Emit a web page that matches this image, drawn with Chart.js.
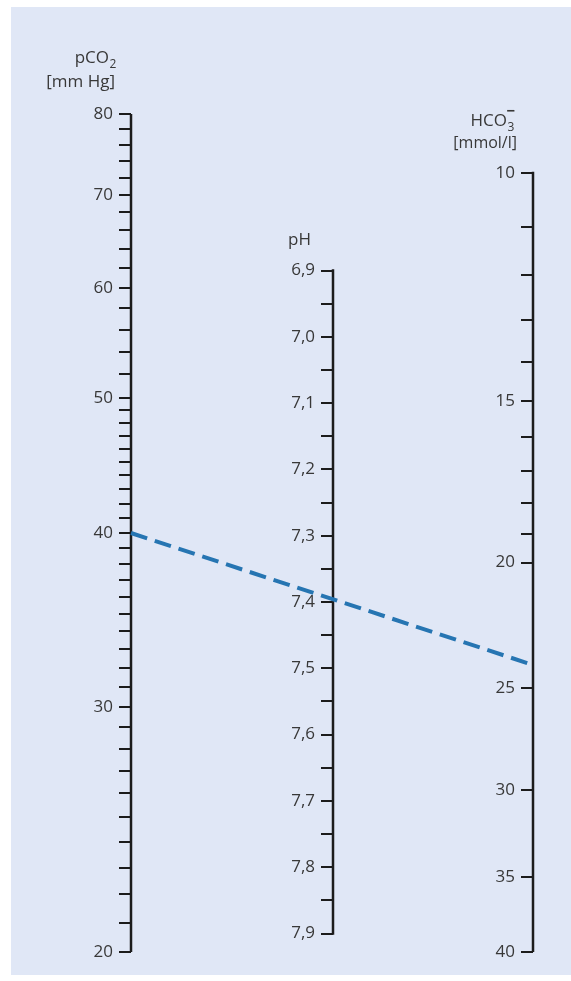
<!DOCTYPE html>
<html>
<head>
<meta charset="utf-8">
<title>Nomogramm pCO2 – pH – HCO3</title>
<script src="https://cdn.jsdelivr.net/npm/chart.js@4/dist/chart.umd.min.js"></script>
<style>
  html, body { margin: 0; padding: 0; background: #ffffff; }
  #wrap { position: relative; width: 571px; height: 981px; }
  #panel { position: absolute; left: 11px; top: 7px; width: 560px; height: 968px; background: #e0e7f6; }
  #c { position: absolute; left: 0; top: 0; }
</style>
</head>
<body>
<div id="wrap">
  <div id="panel"></div>
  <canvas id="c" width="571" height="981"></canvas>
</div>
<script>
// ---- scale values ----
const pco2Ticks = [20, 21, 22, 23, 24, 25, 26, 27, 28, 29, 30, 31, 32, 33, 34, 35, 36, 37, 38, 39,
                   40, 41, 42, 43, 44, 45, 46, 47, 48, 49, 50, 52, 54, 56, 58, 60, 62, 64, 66, 68,
                   70, 72, 74, 76, 78, 80];
const pco2Labels = [20, 30, 40, 50, 60, 70, 80];

const phTicks = [6.9, 6.95, 7.0, 7.05, 7.1, 7.15, 7.2, 7.25, 7.3, 7.35, 7.4, 7.45,
                 7.5, 7.55, 7.6, 7.65, 7.7, 7.75, 7.8, 7.85, 7.9];
const phLabelValues = [6.9, 7.0, 7.1, 7.2, 7.3, 7.4, 7.5, 7.6, 7.7, 7.8, 7.9];
const phLabels = ['6,9', '7,0', '7,1', '7,2', '7,3', '7,4', '7,5', '7,6', '7,7', '7,8', '7,9'];

const hco3Ticks = [10, 11, 12, 13, 14, 15, 16, 17, 18, 19, 20, 25, 30, 35, 40];
const hco3Labels = [10, 15, 20, 25, 30, 35, 40];

// normal reading: pCO2 40 mm Hg, HCO3- 24 mmol/l  ->  pH 7,4
const readingPco2 = [40];
const readingHco3 = [24];
const readingPh = [7.4];

// ---- layout ----
const W = 571, H = 981;
const AREA_TOP = 114, AREA_BOTTOM = 952;
const PCO2_X = 131, PH_X = 333, HCO3_X = 533;
const PH_TOP_PX = 270.5, PH_BOTTOM_PX = 933.5;
const HCO3_TOP_PX = 173, HCO3_BOTTOM_PX = 952;
const TICK_LEN = 12, LABEL_GAP = 6;

const TEXT = '#383838';
const INK = '#1c1c1c';
const FONT = '"Open Sans", "Noto Sans", sans-serif';

// min/max (and direction) of an axis so that vTop sits at pxTop and vBot at pxBot
function axisRange(vTop, pxTop, vBot, pxBot, log) {
  const f = log ? Math.log10 : (v => v);
  const g = log ? (u => Math.pow(10, u)) : (u => u);
  const k = (f(vBot) - f(vTop)) / (pxBot - pxTop);
  const a = g(f(vTop) + (AREA_TOP - pxTop) * k);
  const b = g(f(vTop) + (AREA_BOTTOM - pxTop) * k);
  return { min: Math.min(a, b), max: Math.max(a, b), reverse: vTop < vBot };
}

function yAxis(type, range, xPos, tickValues) {
  return {
    type: type,
    position: { x: xPos },
    min: range.min,
    max: range.max,
    reverse: range.reverse,
    bounds: 'data',
    afterBuildTicks: s => { s.ticks = tickValues.map(v => ({ value: v })); },
    afterFit: s => { s.paddingTop = 0; s.paddingBottom = 0; },
    grid: {
      display: true,
      drawOnChartArea: false,
      drawTicks: true,
      tickLength: TICK_LEN,
      tickWidth: 2,
      tickColor: INK,
      lineWidth: 2,
      color: INK
    },
    border: { display: false },
    // labels are set left of the tick marks by the plugin below
    ticks: { display: false, autoSkip: false }
  };
}

const pco2Range = axisRange(pco2Labels[pco2Labels.length - 1], AREA_TOP, pco2Labels[0], AREA_BOTTOM, true);
const phRange = axisRange(phLabelValues[0], PH_TOP_PX, phLabelValues[phLabelValues.length - 1], PH_BOTTOM_PX, false);
const hco3Range = axisRange(hco3Labels[0], HCO3_TOP_PX, hco3Labels[hco3Labels.length - 1], HCO3_BOTTOM_PX, true);

function spine(axisId, xPos, values) {
  return {
    data: [{ x: xPos, y: Math.min(...values) }, { x: xPos, y: Math.max(...values) }],
    yAxisID: axisId,
    showLine: true,
    borderColor: INK,
    borderWidth: 2.5,
    pointRadius: 0,
    borderCapStyle: 'square'
  };
}

// tick labels, dashed reading line and axis headings
const nomogramPlugin = {
  id: 'nomogram',
  afterDatasetsDraw(chart) {
    const ctx = chart.ctx;
    const xs = chart.scales.x;
    const yP = chart.scales.yP, yH = chart.scales.yH, yPH = chart.scales.yPH;

    // tick labels
    ctx.save();
    ctx.fillStyle = TEXT;
    ctx.font = '17px ' + FONT;
    ctx.textAlign = 'right';
    ctx.textBaseline = 'middle';
    const labelX = axX => xs.getPixelForValue(axX) - TICK_LEN - LABEL_GAP;
    pco2Labels.forEach(v => ctx.fillText(String(v), labelX(PCO2_X), yP.getPixelForValue(v)));
    phLabelValues.forEach((v, i) => ctx.fillText(phLabels[i], labelX(PH_X), yPH.getPixelForValue(v)));
    hco3Labels.forEach(v => ctx.fillText(String(v), labelX(HCO3_X), yH.getPixelForValue(v)));
    ctx.restore();

    // reading line
    ctx.save();
    ctx.strokeStyle = '#2675b2';
    ctx.lineWidth = 4;
    ctx.setLineDash([17, 8]);
    ctx.lineCap = 'butt';
    ctx.beginPath();
    ctx.moveTo(xs.getPixelForValue(PCO2_X), yP.getPixelForValue(readingPco2[0]));
    ctx.lineTo(xs.getPixelForValue(HCO3_X), yH.getPixelForValue(readingHco3[0]));
    ctx.stroke();
    ctx.restore();
  },
  afterDraw(chart) {
    const ctx = chart.ctx;
    ctx.save();
    ctx.fillStyle = TEXT;
    ctx.textBaseline = 'alphabetic';
    const big = '17px ' + FONT, small = '12px ' + FONT;

    // pCO2 [mm Hg]
    ctx.font = big; ctx.textAlign = 'right';
    ctx.fillText('pCO', 109, 63);
    ctx.font = small; ctx.textAlign = 'left';
    ctx.fillText('2', 109.5, 68);
    ctx.font = big; ctx.textAlign = 'right';
    ctx.fillText('[mm Hg]', 115, 87);

    // pH
    ctx.font = big; ctx.textAlign = 'left';
    ctx.fillText('pH', 288, 245);

    // HCO3- [mmol/l]
    ctx.font = big; ctx.textAlign = 'right';
    ctx.fillText('HCO', 507, 126);
    ctx.font = small; ctx.textAlign = 'left';
    ctx.fillText('3', 507.5, 131);
    ctx.font = 'bold 15px ' + FONT;
    ctx.fillText('\u2212', 506.5, 116);
    ctx.font = '16px ' + FONT; ctx.textAlign = 'right';
    ctx.fillText('[mmol/l]', 517, 148);
    ctx.restore();
  }
};

new Chart(document.getElementById('c'), {
  type: 'scatter',
  data: {
    datasets: [
      spine('yP', PCO2_X, pco2Ticks),
      spine('yPH', PH_X, phTicks),
      spine('yH', HCO3_X, hco3Ticks)
    ]
  },
  options: {
    responsive: false,
    animation: false,
    events: [],
    layout: { padding: { left: 0, right: 0, top: AREA_TOP, bottom: H - AREA_BOTTOM } },
    plugins: { legend: { display: false }, tooltip: { enabled: false }, title: { display: false } },
    scales: {
      x: { type: 'linear', min: 0, max: W, display: false },
      yP: yAxis('logarithmic', pco2Range, PCO2_X, pco2Ticks),
      yPH: yAxis('linear', phRange, PH_X, phTicks),
      yH: yAxis('logarithmic', hco3Range, HCO3_X, hco3Ticks)
    }
  },
  plugins: [nomogramPlugin]
});
</script>
</body>
</html>
